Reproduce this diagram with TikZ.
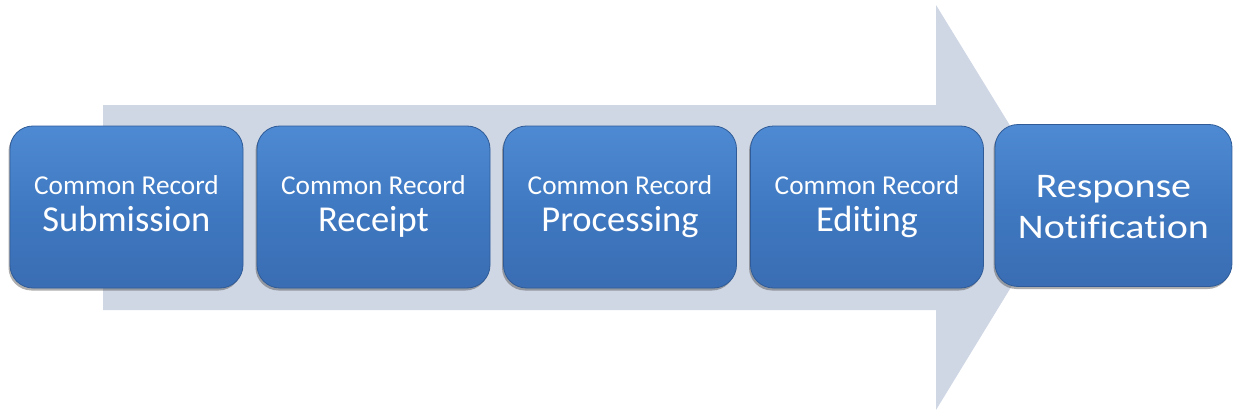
\documentclass[tikz,border=0pt]{standalone}
\usepackage{fontspec}
\setmainfont{Carlito}[Ligatures=NoCommon]
\newfontfamily\widefont{Carlito}[Ligatures=NoCommon, FakeStretch=1.16]
\usetikzlibrary{shadows}
\definecolor{arrowc}{HTML}{CFD6E4}
\definecolor{boxtop}{HTML}{4E8AD3}
\definecolor{boxmid}{HTML}{3F79C1}
\definecolor{boxbot}{HTML}{3A6DB3}
\definecolor{boxedge}{HTML}{2F5C98}
\tikzset{
  stagebox/.style={draw=boxedge, line width=0.8pt, rounded corners=23pt,
    top color=boxtop, bottom color=boxbot, middle color=boxmid,
    drop shadow={shadow xshift=-1.5pt, shadow yshift=-2.5pt, opacity=0.45, fill=black!70},
    minimum width=233pt, minimum height=162pt, inner sep=0pt,
    text=white, align=center, font=\fontsize{36.5}{37}\selectfont},
  lastbox/.style={stagebox, minimum width=237pt, font=\widefont\fontsize{34.5}{41}\selectfont},
}
\newcommand{\stagetext}[1]{{\fontsize{27.3}{37}\selectfont\rule{0pt}{20pt}Common Record}\\#1\rule[-8pt]{0pt}{8pt}}
\begin{document}
\begin{tikzpicture}[x=1pt,y=-1pt]
\useasboundingbox (0,0) rectangle (1235,412);
\fill[arrowc] (103,105) -- (936,105) -- (936,5) -- (1060,207) -- (936,410) -- (936,310) -- (103,310) -- cycle;
\node[stagebox] (b1) at (126.5,207) {\stagetext{Submission}};
\node[stagebox] (b2) at (373.5,207) {\stagetext{Receipt}};
\node[stagebox] (b3) at (620,207) {\stagetext{Processing}};
\node[stagebox] (b4) at (867,207) {\stagetext{Editing}};
\node[lastbox] (b5) at (1113.5,205.5) {\rule{0pt}{26pt}Response\\Notification\rule[-2pt]{0pt}{2pt}};
\end{tikzpicture}
\end{document}
